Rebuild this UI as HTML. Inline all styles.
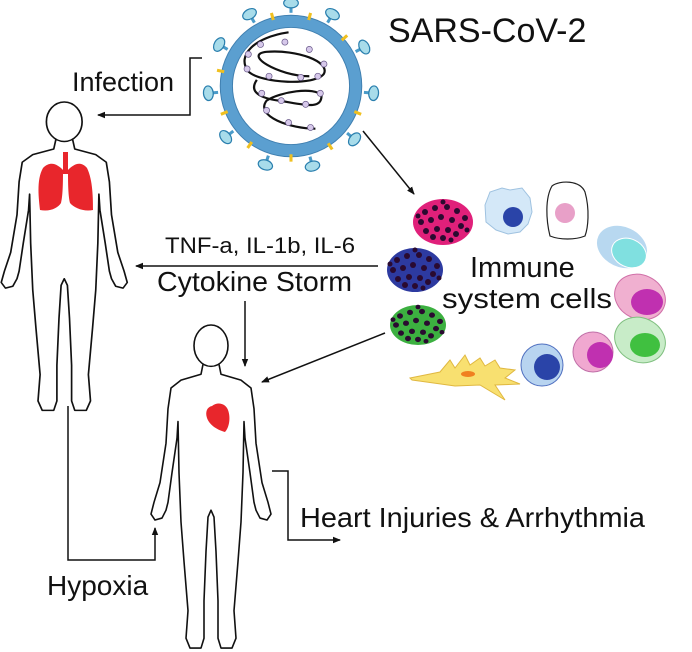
<!DOCTYPE html>
<html><head><meta charset="utf-8"><style>
html,body{margin:0;padding:0;background:#fff;}
svg{display:block}
text{font-family:"Liberation Sans",Arial,sans-serif;fill:#111}
</style></head><body>
<svg width="692" height="652" viewBox="0 0 692 652" xmlns="http://www.w3.org/2000/svg">
<defs>
<marker id="ar" markerWidth="8" markerHeight="8" refX="7" refY="4" orient="auto" markerUnits="userSpaceOnUse">
<path d="M0,0.8 L8,4 L0,7.2 Z" fill="#111"/></marker>
<g id="body">
<path d="M57,40 L55,50 L35,56 L25,64 L22,85 L20,120 L14,160 L8,180 L5,192 L9,198 L16,196 L20,188 L22,180 L26,150 L31,115 L32,98 L33,150 L35,200 L38,240 L42,290 L40,318 L44,328 L55,328 L58,318 L58,280 L60,230 L62,195 L65,188 L68,195 L70,230 L72,280 L72,318 L75,328 L86,328 L90,318 L88,290 L92,240 L95,200 L97,150 L98,98 L99,115 L104,150 L108,180 L110,188 L114,196 L121,198 L125,192 L122,180 L116,160 L110,120 L108,85 L105,64 L95,56 L75,50 L73,40" fill="#fff" stroke="#111" stroke-width="1.6" stroke-linejoin="round"/>
<ellipse cx="65" cy="21" rx="17" ry="21" fill="#fff" stroke="#111" stroke-width="1.6"/>
</g>
<g id="dots" fill="#2a0a30">
<circle cx="-18" cy="-10" r="3"/><circle cx="-8" cy="-14" r="3"/><circle cx="4" cy="-15" r="3"/><circle cx="14" cy="-11" r="3"/><circle cx="22" cy="-4" r="3"/>
<circle cx="-22" cy="0" r="3"/><circle cx="-12" cy="-2" r="3"/><circle cx="-2" cy="-5" r="3"/><circle cx="9" cy="-2" r="3"/><circle cx="18" cy="4" r="3"/>
<circle cx="-17" cy="9" r="3"/><circle cx="-6" cy="7" r="3"/><circle cx="5" cy="8" r="3"/><circle cx="13" cy="12" r="3"/><circle cx="24" cy="8" r="2.5"/>
<circle cx="-10" cy="15" r="3"/><circle cx="0" cy="16" r="3"/><circle cx="8" cy="18" r="2.5"/><circle cx="-25" cy="-6" r="2.5"/><circle cx="0" cy="-20" r="2.5"/>
</g>
</defs>

<!-- bodies -->
<use href="#body" transform="translate(-4,102) scale(1.05,0.94)"/>
<use href="#body" transform="translate(146,325) scale(1,0.985)"/>
<!-- lungs -->
<path d="M63,155 L63,170 C58,165 51,160 43,168 C36,180 39,200 40,210 C50,212 58,208 61,203 C63,195 63,180 63,170 Z" fill="#e8262c"/>
<path d="M68,155 L68,170 C73,165 80,160 87,168 C93,180 93,200 93,210 C84,212 74,208 70,203 C68,195 68,180 68,170 Z" fill="#e8262c"/>
<rect x="63" y="152" width="5" height="22" fill="#e8262c"/>
<!-- heart -->
<path d="M212,406 C218,401 226,404 228,410 C231,418 229,428 225,432 C218,430 210,426 207,418 C205,412 207,407 212,406 Z" fill="#e8262c"/>

<!-- virus -->
<g transform="translate(291,86) scale(1.22)">
<g stroke="#4a9bc9" stroke-width="2.5" fill="#a8dcea">
<g id="sp"><line x1="0" y1="-60" x2="0" y2="-66"/><ellipse cx="0" cy="-68" rx="6" ry="4" stroke-width="1" stroke="#2a7fae"/></g>
<use href="#sp" transform="rotate(30)"/><use href="#sp" transform="rotate(62)"/><use href="#sp" transform="rotate(95)"/>
<use href="#sp" transform="rotate(130)"/><use href="#sp" transform="rotate(165)"/><use href="#sp" transform="rotate(198)"/>
<use href="#sp" transform="rotate(232)"/><use href="#sp" transform="rotate(265)"/><use href="#sp" transform="rotate(300)"/><use href="#sp" transform="rotate(330)"/>
</g>
<circle r="53" fill="none" stroke="#5b9fd0" stroke-width="10"/>
<circle r="58" fill="none" stroke="#3f7fb0" stroke-width="0.8"/>
<circle r="48" fill="#fff" stroke="#3f7fb0" stroke-width="0.8"/>
<g stroke="#f0c020" stroke-width="2.5">
<line x1="0" y1="-56" x2="0" y2="-62" transform="rotate(15)"/><line x1="0" y1="-56" x2="0" y2="-62" transform="rotate(48)"/>
<line x1="0" y1="-56" x2="0" y2="-62" transform="rotate(112)"/><line x1="0" y1="-56" x2="0" y2="-62" transform="rotate(147)"/>
<line x1="0" y1="-56" x2="0" y2="-62" transform="rotate(180)"/><line x1="0" y1="-56" x2="0" y2="-62" transform="rotate(215)"/>
<line x1="0" y1="-56" x2="0" y2="-62" transform="rotate(248)"/><line x1="0" y1="-56" x2="0" y2="-62" transform="rotate(282)"/><line x1="0" y1="-56" x2="0" y2="-62" transform="rotate(345)"/>
</g>
<g fill="none" stroke="#111" stroke-width="1.8">
<path d="M-2,-44 C-30,-40 -45,-25 -35,-12 C-25,-2 20,0 27,-10 C32,-20 5,-30 -20,-28 C-40,-26 -10,-8 15,-8"/>
<path d="M-28,-5 C-35,5 -25,10 -10,12 C10,15 25,20 25,8 C20,0 -10,5 -20,12 C-30,25 0,35 20,35"/>
</g>
<g fill="#d6c8ea" stroke="#6a5a8a" stroke-width="0.6">
<circle cx="-35" cy="-26" r="2.5"/><circle cx="-25" cy="-34" r="2.5"/><circle cx="-5" cy="-36" r="2.5"/><circle cx="15" cy="-30" r="2.5"/><circle cx="27" cy="-18" r="2.5"/>
<circle cx="-36" cy="-14" r="2.5"/><circle cx="-18" cy="-8" r="2.5"/><circle cx="8" cy="-7" r="2.5"/><circle cx="22" cy="-8" r="2.5"/>
<circle cx="-24" cy="6" r="2.5"/><circle cx="-8" cy="12" r="2.5"/><circle cx="12" cy="15" r="2.5"/><circle cx="24" cy="6" r="2.5"/>
<circle cx="-20" cy="20" r="2.5"/><circle cx="-2" cy="30" r="2.5"/><circle cx="16" cy="34" r="2.5"/>
</g>
</g>

<!-- immune cells -->
<ellipse cx="443" cy="222" rx="30" ry="23" fill="#e0207a"/><use href="#dots" transform="translate(443,222)"/>
<ellipse cx="415" cy="270" rx="28" ry="22" fill="#2d3aa0"/><use href="#dots" transform="translate(415,270)"/>
<ellipse cx="418" cy="325" rx="28" ry="20" fill="#3cb040"/><use href="#dots" transform="translate(418,325) scale(1,0.9)"/>
<path d="M485,205 L490,192 L502,188 L510,190 L522,188 L530,198 L532,212 L528,224 L520,232 L508,234 L496,230 L486,222 Z" fill="#d4e8f8" stroke="#9fc2e0"/>
<circle cx="513" cy="217" r="10" fill="#2a44a8"/>
<path d="M552,186 C560,180 580,180 585,192 C590,210 588,228 585,236 C575,240 560,240 550,236 C546,220 545,198 552,186 Z" fill="#fff" stroke="#222" stroke-width="1.2"/>
<circle cx="565" cy="213" r="10" fill="#e8a0c8"/>
<ellipse cx="622" cy="247" rx="26" ry="20" transform="rotate(25 622 247)" fill="#b8d8f0"/>
<ellipse cx="629" cy="253" rx="18" ry="14" transform="rotate(25 629 253)" fill="#80e0e0" stroke="#fff"/>
<ellipse cx="640" cy="297" rx="26" ry="22" transform="rotate(25 640 297)" fill="#f0b0d0" stroke="#d070a8"/>
<ellipse cx="647" cy="302" rx="16" ry="13" fill="#c030b0"/>
<ellipse cx="640" cy="340" rx="26" ry="22" transform="rotate(25 640 340)" fill="#c8ecc8" stroke="#80c080"/>
<ellipse cx="645" cy="345" rx="15" ry="12" fill="#40c040"/>
<circle cx="593" cy="352" r="20" fill="#f0a8d0" stroke="#c070a8"/>
<circle cx="600" cy="355" r="13" fill="#c030b0"/>
<circle cx="542" cy="365" r="21" fill="#b8d4f0" stroke="#5070c0"/>
<circle cx="547" cy="367" r="13" fill="#2a44a8"/>
<path d="M410,378 L440,372 L450,360 L455,368 L465,355 L470,365 L480,358 L485,366 L495,360 L500,368 L515,370 L505,378 L520,384 L495,385 L505,400 L480,385 L455,386 L412,380 Z" fill="#f8e070" stroke="#e0b840"/>
<ellipse cx="468" cy="374" rx="7" ry="3" fill="#f08020"/>

<!-- connectors -->
<g fill="none" stroke="#111" stroke-width="1.5">
<polyline points="202,58 190,58 190,115 98,115" marker-end="url(#ar)"/>
<line x1="363" y1="131" x2="414" y2="194" marker-end="url(#ar)"/>
<line x1="378" y1="266" x2="136" y2="266" marker-end="url(#ar)"/>
<line x1="245" y1="301" x2="245" y2="366" marker-end="url(#ar)"/>
<line x1="385" y1="333" x2="262" y2="382" marker-end="url(#ar)"/>
<polyline points="68,406 68,560 155,560 155,528" marker-end="url(#ar)"/>
<polyline points="272,471 288,471 288,540 340,540" marker-end="url(#ar)"/>
</g>

<!-- labels -->
<text x="388" y="42" font-size="34">SARS-CoV-2</text>
<text x="72" y="91" font-size="27">Infection</text>
<text x="165" y="253" font-size="22" textLength="190" lengthAdjust="spacingAndGlyphs">TNF-a, IL-1b, IL-6</text>
<text x="157" y="291" font-size="28" textLength="195" lengthAdjust="spacingAndGlyphs">Cytokine Storm</text>
<text x="470" y="277" font-size="29">Immune</text>
<text x="442" y="308" font-size="28" textLength="170" lengthAdjust="spacingAndGlyphs">system cells</text>
<text x="300" y="527" font-size="28" textLength="345" lengthAdjust="spacingAndGlyphs">Heart Injuries &amp; Arrhythmia</text>
<text x="47" y="595" font-size="28">Hypoxia</text>
</svg>
</body></html>
